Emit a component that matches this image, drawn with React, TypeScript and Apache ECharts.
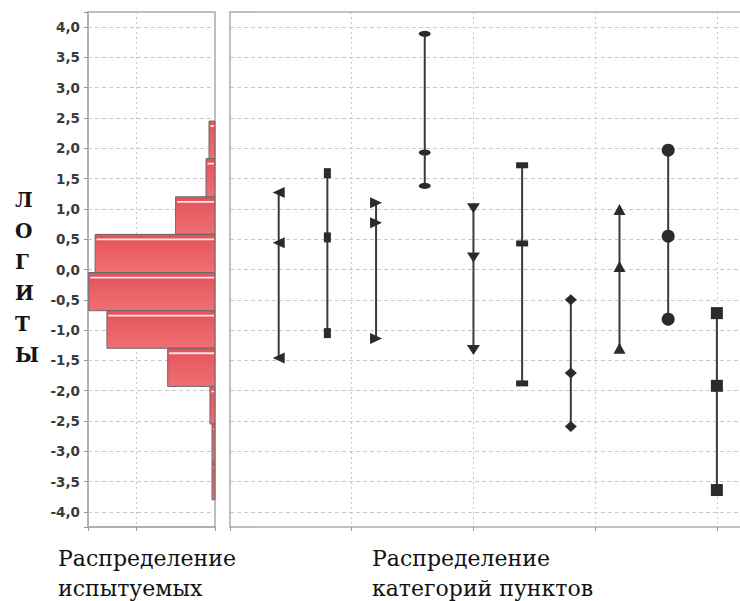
import React, { useEffect, useRef } from "react";
import * as echarts from "echarts";

// ---- data ----
const histBinEdges = [2.45, 1.83, 1.2, 0.58, -0.05, -0.68, -1.3, -1.93, -2.55, -3.18, -3.8];
const histCounts = [3.8, 5.7, 25, 76, 80, 68.5, 30, 3.2, 1.9, 1.9];

const itemPositions = [0.4, 0.8, 1.2, 1.6, 2.0, 2.4, 2.8, 3.2, 3.6, 4.0];
const itemHigh = [1.27, 1.59, 1.1, 3.89, 1.01, 1.72, -0.5, 0.99, 1.97, -0.72];
const itemMid = [0.44, 0.53, 0.77, 1.93, 0.2, 0.43, -1.71, 0.05, 0.55, -1.92];
const itemLow = [-1.46, -1.05, -1.14, 1.38, -1.33, -1.88, -2.59, -1.3, -0.82, -3.64];

const yAxisTitle = "ЛОГИТЫ";
const leftCaption = ["Распределение", "испытуемых"];
const rightCaption = ["Распределение", "категорий пунктов"];

// ---- styles ----
const markerStyles: { symbol: string; size: number | number[]; rotate: number }[] = [
  { symbol: "triangle", size: [11, 12], rotate: 90 },
  { symbol: "rect", size: [7, 10], rotate: 0 },
  { symbol: "triangle", size: [11, 12], rotate: -90 },
  { symbol: "circle", size: [12, 6], rotate: 0 },
  { symbol: "triangle", size: [13, 10], rotate: 180 },
  { symbol: "rect", size: [12, 6], rotate: 0 },
  { symbol: "diamond", size: [12, 11], rotate: 0 },
  { symbol: "triangle", size: [12, 11], rotate: 0 },
  { symbol: "circle", size: 13, rotate: 0 },
  { symbol: "rect", size: 12, rotate: 0 },
];

const GRID_COLOR = "#c9c9c9";
const BORDER_COLOR = "#ababab";
const MARK_COLOR = "#2b2b2b";

export default function App() {
  const ref = useRef<HTMLDivElement>(null);

  useEffect(() => {
    if (!ref.current) return;
    const chart = echarts.init(ref.current, null, { renderer: "svg" });

    const histData = histCounts.map((c, i) => [c, histBinEdges[i], histBinEdges[i + 1]]);
    const barData = itemPositions.map((x, i) => [x, itemHigh[i], itemLow[i]]);

    const yLabelFmt = (v: number) => {
      const d = v * 2;
      if (Math.abs(d - Math.round(d)) > 1e-6 || Math.abs(v) > 4.001) return "";
      return v.toFixed(1).replace(".", ",");
    };

    const ySplit = {
      show: true,
      showMinLine: false,
      showMaxLine: false,
      lineStyle: { color: GRID_COLOR, type: [4, 3], width: 1 },
    };
    const xSplit = {
      show: true,
      showMinLine: false,
      showMaxLine: false,
      lineStyle: { color: GRID_COLOR, type: [2, 3], width: 1 },
    };
    const borderLine = { show: true, onZero: false, lineStyle: { color: BORDER_COLOR, width: 1.5 } };

    const markerSeries = itemPositions.map((x, i) => ({
      type: "scatter",
      xAxisIndex: 1,
      yAxisIndex: 1,
      z: 4,
      symbol: markerStyles[i].symbol,
      symbolSize: markerStyles[i].size,
      symbolRotate: markerStyles[i].rotate,
      itemStyle: { color: MARK_COLOR, opacity: 1 },
      data: [
        [x, itemHigh[i]],
        [x, itemMid[i]],
        [x, itemLow[i]],
      ],
    }));

    const option: any = {
      animation: false,
      backgroundColor: "#ffffff",
      grid: [
        {
          left: 88,
          top: 12,
          width: 127,
          height: 515,
          show: true,
          borderColor: BORDER_COLOR,
          borderWidth: 1.5,
          backgroundColor: "transparent",
        },
        {
          left: 230,
          top: 12,
          right: 0,
          height: 515,
          show: false,
        },
      ],
      xAxis: [
        {
          type: "value",
          gridIndex: 0,
          inverse: true,
          min: 0,
          max: 80.5,
          interval: 50,
          axisLabel: { show: false },
          axisLine: borderLine,
          axisTick: { show: true, length: 4, lineStyle: { color: "#999" } },
          splitLine: xSplit,
        },
        {
          type: "value",
          gridIndex: 1,
          min: 0,
          max: 4.19,
          interval: 1,
          axisLabel: { show: false },
          axisLine: borderLine,
          axisTick: { show: true, length: 4, lineStyle: { color: "#999" } },
          splitLine: xSplit,
        },
        {
          type: "value",
          gridIndex: 1,
          position: "top",
          min: 0,
          max: 4.19,
          interval: 1,
          axisLabel: { show: false },
          axisLine: borderLine,
          axisTick: { show: false },
          splitLine: { show: false },
        },
      ],
      yAxis: [
        {
          type: "value",
          gridIndex: 0,
          min: -4.25,
          max: 4.25,
          splitNumber: 17,
          axisLine: borderLine,
          axisTick: { show: true, length: 4, lineStyle: { color: "#999" } },
          axisLabel: {
            show: true,
            formatter: yLabelFmt,
            fontFamily: "DejaVu Sans",
            fontWeight: "bold",
            fontSize: 13.5,
            color: "#3a3a3a",
            margin: 8,
          },
          splitLine: ySplit,
        },
        {
          type: "value",
          gridIndex: 1,
          min: -4.25,
          max: 4.25,
          splitNumber: 17,
          axisLine: borderLine,
          axisTick: { show: false },
          axisLabel: { show: false },
          splitLine: ySplit,
        },
      ],
      series: [
        {
          type: "custom",
          xAxisIndex: 0,
          yAxisIndex: 0,
          z: 3,
          encode: { x: 0, y: [1, 2] },
          data: histData,
          renderItem: (params: any, api: any) => {
            const c = api.value(0);
            const hi = api.value(1);
            const lo = api.value(2);
            const a = api.coord([c, hi]);
            const b = api.coord([0, lo]);
            const x = Math.min(a[0], b[0]);
            const w = Math.abs(a[0] - b[0]);
            const y = a[1];
            const h = b[1] - a[1];
            return {
              type: "group",
              children: [
                {
                  type: "rect",
                  shape: { x, y, width: w, height: h },
                  style: {
                    fill: new echarts.graphic.LinearGradient(0, 0, 0, 1, [
                      { offset: 0, color: "#e2525a" },
                      { offset: 0.5, color: "#ea6267" },
                      { offset: 1, color: "#ee6f73" },
                    ]),
                    stroke: "#6a6a6a",
                    lineWidth: 1,
                  },
                },
                {
                  type: "line",
                  shape: { x1: x + 1.5, y1: y + 5, x2: x + w - 1, y2: y + 5 },
                  style: { stroke: "#ffe4e4", lineWidth: 1.8 },
                },
              ],
            };
          },
        },
        {
          type: "custom",
          xAxisIndex: 1,
          yAxisIndex: 1,
          z: 3,
          encode: { x: 0, y: [1, 2] },
          data: barData,
          renderItem: (params: any, api: any) => {
            const p1 = api.coord([api.value(0), api.value(1)]);
            const p2 = api.coord([api.value(0), api.value(2)]);
            return {
              type: "line",
              shape: { x1: p1[0], y1: p1[1], x2: p2[0], y2: p2[1] },
              style: { stroke: "#3a3a3a", lineWidth: 2 },
            };
          },
        },
        ...markerSeries,
      ],
      graphic: [
        {
          type: "text",
          left: 15,
          top: 184,
          style: {
            text: yAxisTitle.split("").join("\n"),
            font: "bold 20px 'DejaVu Serif'",
            lineHeight: 31,
            fill: "#151515",
            align: "center",
            width: 20,
          },
        },
        {
          type: "text",
          left: 58,
          top: 543,
          style: {
            text: leftCaption.join("\n"),
            font: "22px 'DejaVu Serif'",
            lineHeight: 30,
            fill: "#111",
          },
        },
        {
          type: "text",
          left: 372,
          top: 543,
          style: {
            text: rightCaption.join("\n"),
            font: "22px 'DejaVu Serif'",
            lineHeight: 30,
            fill: "#111",
          },
        },
      ],
    };

    chart.setOption(option);
    return () => chart.dispose();
  }, []);

  return (
    <div
      ref={ref}
      style={{ position: "absolute", left: 0, top: 0, width: 740, height: 601, overflow: "hidden" }}
    />
  );
}
